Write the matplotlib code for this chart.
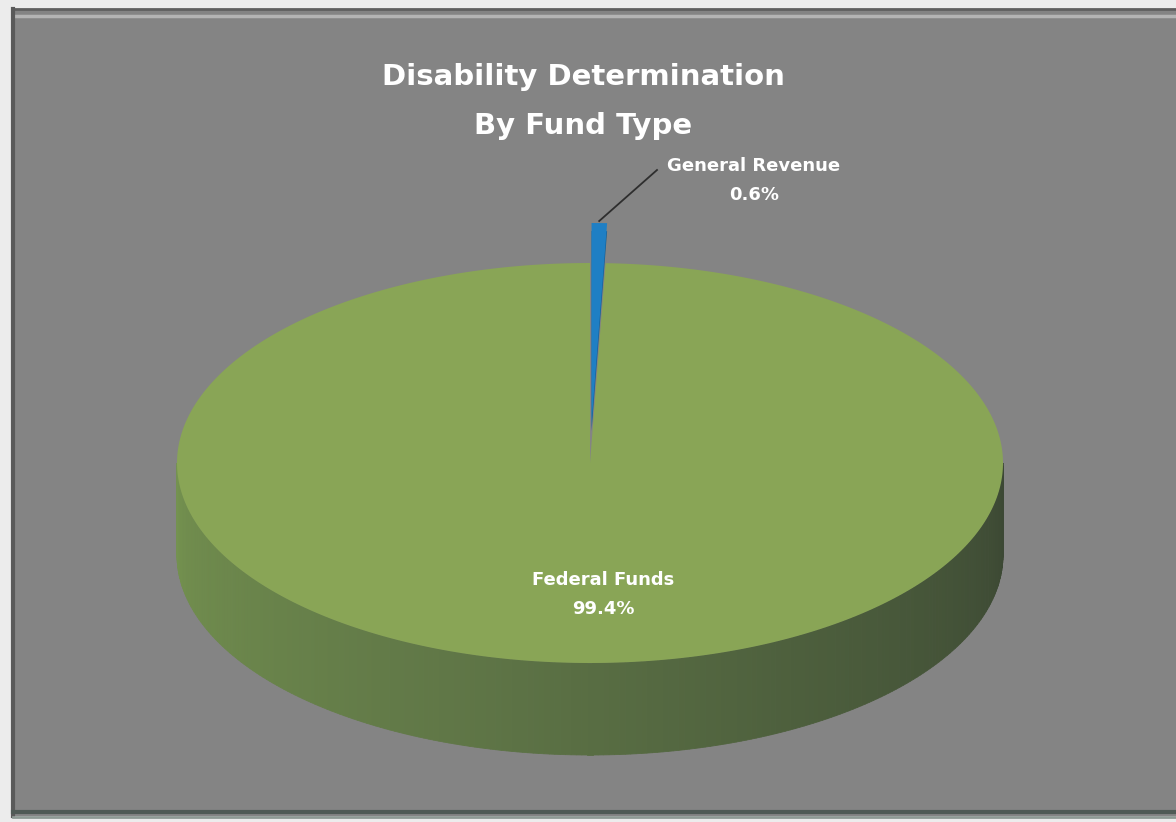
import numpy as np
import matplotlib
matplotlib.use("Agg")
import matplotlib.pyplot as plt
from matplotlib.patches import Polygon, Rectangle

# fund shares, percent of total
categories = ["General Revenue", "Federal Funds"]
shares = [0.6, 99.4]
colors_top = ["#1f7fc4", "#89a556"]

W, H = 1176, 822
fig = plt.figure(figsize=(W / 100, H / 100), dpi=100, facecolor="#ececec")
ax = fig.add_axes([0, 0, 1, 1])
ax.set_xlim(0, W)
ax.set_ylim(H, 0)
ax.axis("off")

# chart panel with frame
ax.add_patch(Rectangle((13, 9), W - 13, 807, facecolor="#848484", edgecolor="none", zorder=0))
ax.plot([13, W], [9, 9], color="#5f5f5f", lw=2, zorder=1)
ax.plot([14, W], [16, 16], color="#b4b4b4", lw=2.5, zorder=1)
ax.plot([13, 13], [9, 816], color="#5a5a5a", lw=3, zorder=1)
ax.plot([13, W], [812, 812], color="#4f5a55", lw=3, zorder=1)
ax.plot([13, W], [817, 817], color="#8e9a94", lw=2, zorder=1)

# pie geometry (pixel units)
cx, cy = 590, 463
a, b = 413, 200
depth = 92
explode = [0.2, 0.0]


def rim(theta_deg, ox=0.0, oy=0.0, dz=0.0):
    t = np.radians(theta_deg)
    return cx + ox + a * np.sin(t), cy + oy - b * np.cos(t) + dz


def lerp_color(c1, c2, f):
    c1 = np.array(matplotlib.colors.to_rgb(c1))
    c2 = np.array(matplotlib.colors.to_rgb(c2))
    return tuple(c1 + (c2 - c1) * f)


bounds = np.concatenate([[0], np.cumsum(shares)]) * 360 / 100.0

# side wall of the big slice, shaded left to right
side_stops = [(270, "#74924f"), (200, "#607747"), (150, "#4d5f3d"), (90, "#3b4733")]
thetas = np.linspace(90, 270, 240)
for t0, t1 in zip(thetas[:-1], thetas[1:]):
    tm = 0.5 * (t0 + t1)
    for (s0, c0), (s1, c1) in zip(side_stops[:-1], side_stops[1:]):
        if s1 <= tm <= s0:
            col = lerp_color(c0, c1, (s0 - tm) / (s0 - s1))
            break
    x0, y0 = rim(t0)
    x1, y1 = rim(t1)
    ax.add_patch(Polygon([(x0, y0), (x1, y1), (x1, y1 + depth), (x0, y0 + depth)],
                         closed=True, facecolor=col, edgecolor=col, lw=0.6, zorder=2))

# inner face left open where the small slice was pulled out
xr, yr = rim(0)
ax.add_patch(Polygon([(cx, cy), (xr, yr), (xr, yr + depth), (cx, cy + depth)],
                     closed=True, facecolor="#4f6340", edgecolor="none", zorder=3))

# top faces
for i, name in enumerate(categories):
    t0, t1 = bounds[i], bounds[i + 1]
    mid = np.radians(0.5 * (t0 + t1))
    ox = explode[i] * a * np.sin(mid)
    oy = -explode[i] * b * np.cos(mid)
    ts = np.linspace(t0, t1, max(4, int(t1 - t0) * 2))
    pts = [(cx + ox, cy + oy)] + [rim(t, ox, oy) for t in ts]
    if explode[i] > 0:
        # thin slab under the lifted slice
        lo = [(cx + ox, cy + oy + 8)] + [rim(t, ox, oy, 8) for t in ts]
        ax.add_patch(Polygon(lo, closed=True, facecolor="#155f97", edgecolor="none", zorder=4))
    ax.add_patch(Polygon(pts, closed=True, facecolor=colors_top[i], edgecolor="none", zorder=5))

# labels
plt.rcParams["font.family"] = ["DejaVu Sans"]
ax.text(583, 77, "Disability Determination", ha="center", va="center",
        color="white", fontsize=21, fontweight="bold", zorder=6)
ax.text(583, 126, "By Fund Type", ha="center", va="center",
        color="white", fontsize=21, fontweight="bold", zorder=6)

gx, gy = rim(1.0, 0, -explode[0] * b)
ax.plot([gx + 2, 657], [gy - 2, 170], color="#2e2e2e", lw=1.3, zorder=6)
ax.text(754, 166, f"{categories[0]}", ha="center", va="center", color="white",
        fontsize=13, fontweight="bold", zorder=6)
ax.text(754, 195, f"{shares[0]}%", ha="center", va="center", color="white",
        fontsize=13, fontweight="bold", zorder=6)
ax.text(603, 580, f"{categories[1]}", ha="center", va="center", color="white",
        fontsize=13, fontweight="bold", zorder=6)
ax.text(603, 609, f"{shares[1]}%", ha="center", va="center", color="white",
        fontsize=13, fontweight="bold", zorder=6)

fig.savefig("out.png", dpi=100, facecolor=fig.get_facecolor())
